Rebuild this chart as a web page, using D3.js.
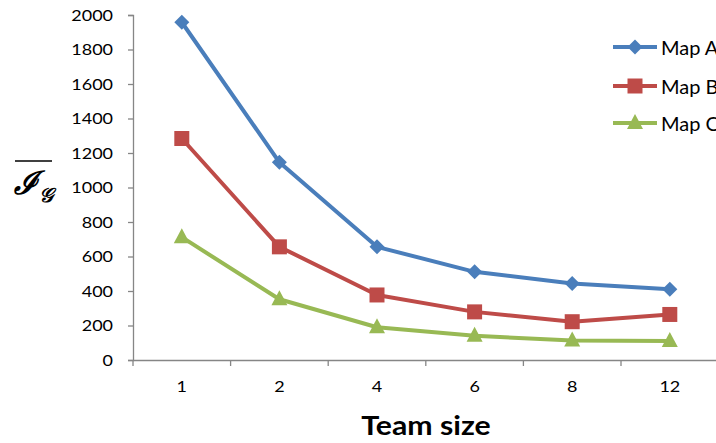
<!DOCTYPE html>
<html><head><meta charset="utf-8">
<script src="https://cdn.jsdelivr.net/npm/d3@7/dist/d3.min.js"></script>
<style>body{margin:0;background:#fff;overflow:hidden}svg{display:block}</style>
</head><body>
<script>
const categories = ["1","2","4","6","8","12"];
const mapA = [1958, 1146, 656, 511, 444, 410];
const mapB = [1284, 656, 377, 279, 222, 264];
const mapC = [712, 352, 190, 140, 113, 110];
const seriesNames = ["Map A","Map B","Map C"];
const yTicks = [0,200,400,600,800,1000,1200,1400,1600,1800,2000];

const W = 716, H = 443;
const svg = d3.select("body").append("svg").attr("width", W).attr("height", H);
const font = "Lato, 'Open Sans', sans-serif";

const x = d3.scaleBand().domain(categories).range([133, 133 + 6 * 97.6]);
const y = d3.scaleLinear().domain([0, 2000]).range([360, 15]);
const axisColor = "#868686";

// y axis
const yAxis = d3.axisLeft(y).tickValues(yTicks).tickSize(5).tickFormat(d3.format("d"));
const gy = svg.append("g").attr("transform", "translate(133,0)").call(yAxis);
gy.select(".domain").attr("stroke", axisColor).attr("stroke-width", 1.3);
gy.selectAll(".tick line").attr("stroke", axisColor).attr("stroke-width", 1.3);
gy.selectAll(".tick text").attr("x", null).attr("dy", null)
  .attr("transform", "translate(-20,0) scale(1.2,1)")
  .attr("dominant-baseline", "central")
  .attr("font-family", font).attr("font-size", 15).attr("fill", "#000");

// x axis
const xAxis = d3.axisBottom(x).tickSize(0);
const gx = svg.append("g").attr("transform", "translate(0,360)").call(xAxis);
gx.select(".domain").attr("stroke", axisColor).attr("stroke-width", 1.3);
gx.selectAll(".tick text").attr("y", null).attr("dy", null)
  .attr("transform", "translate(0,27) scale(1.2,1)")
  .attr("dominant-baseline", "central")
  .attr("font-family", font).attr("font-size", 15).attr("fill", "#000");
const bounds = categories.map(c => x(c)).concat([x(categories[categories.length-1]) + x.bandwidth()]);
gx.selectAll(".bt").data(bounds).enter().append("line")
  .attr("x1", d => d).attr("x2", d => d).attr("y1", 0).attr("y2", 6)
  .attr("stroke", axisColor).attr("stroke-width", 1.3);

// axis titles
svg.append("text").attr("transform", "translate(426,435) scale(1.12,1)").attr("text-anchor", "middle")
  .attr("font-family", font).attr("font-weight", "bold").attr("font-size", 27).text("Team size");

const yl = svg.append("g");
yl.append("line").attr("x1", 15).attr("x2", 52).attr("y1", 161).attr("y2", 161).attr("stroke", "#000").attr("stroke-width", 1.5);
yl.append("text").attr("x", 14).attr("y", 194).attr("font-family", "'DejaVu Serif', serif").attr("font-style", "italic").attr("font-weight", "bold").attr("font-size", 32).text("ℐ");
yl.append("text").attr("x", 39).attr("y", 202).attr("font-family", "'DejaVu Serif', serif").attr("font-style", "italic").attr("font-weight", "bold").attr("font-size", 20).text("𝒢");

const colors = ["#4A7EBB", "#BE4B48", "#98B954"];
const markerPaths = [
  "M0,-7.5L7.5,0L0,7.5L-7.5,0Z",
  "M-7.5,-7.5H7.5V7.5H-7.5Z",
  "M0,-9L8,6H-8Z"
];
const allSeries = [mapA, mapB, mapC];
const cx = c => x(c) + x.bandwidth() / 2;
const line = d3.line().x((d, i) => cx(categories[i])).y(d => y(d));

allSeries.forEach((vals, si) => {
  svg.append("path").datum(vals).attr("d", line).attr("fill", "none")
    .attr("stroke", colors[si]).attr("stroke-width", 4).attr("stroke-linejoin", "round");
  svg.selectAll(".m" + si).data(vals).enter().append("path")
    .attr("d", markerPaths[si])
    .attr("transform", (d, i) => `translate(${cx(categories[i])},${y(d)})`)
    .attr("fill", colors[si]);
});

// legend
const legY = [47, 86, 123];
seriesNames.forEach((n, si) => {
  const g = svg.append("g").attr("transform", `translate(0,${legY[si]})`);
  g.append("line").attr("x1", 613).attr("x2", 657).attr("y1", 0).attr("y2", 0)
    .attr("stroke", colors[si]).attr("stroke-width", 4);
  g.append("path").attr("d", markerPaths[si])
    .attr("transform", "translate(635,0)").attr("fill", colors[si]);
  g.append("text").attr("x", 661).attr("y", 0)
    .attr("dominant-baseline", "central")
    .attr("font-family", font).attr("font-size", 20).text(n);
});
</script>
</body></html>
